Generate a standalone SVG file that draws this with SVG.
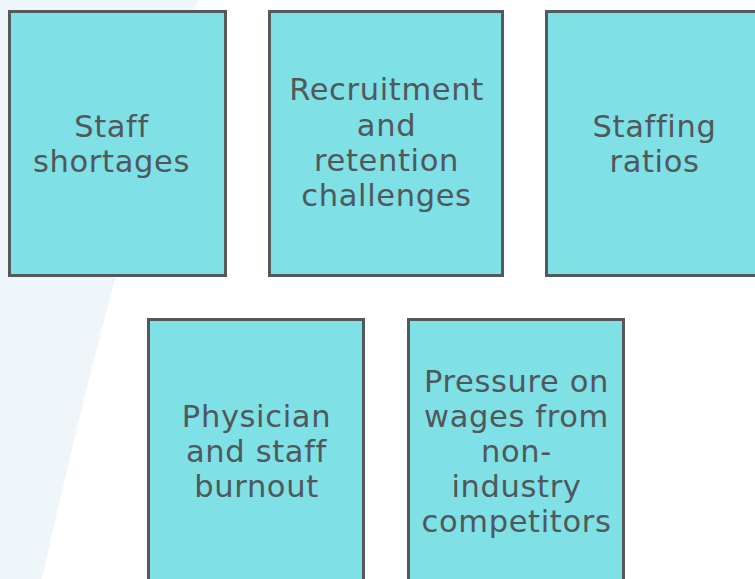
<svg xmlns="http://www.w3.org/2000/svg" width="755" height="579" viewBox="0 0 755 579">
<style>
.box{fill:#7fe0e6;stroke:#55595c;stroke-width:3}
.t{font-family:"DejaVu Sans","Verdana",sans-serif;font-size:30.5px;letter-spacing:0.65px;fill:#50585b;text-anchor:middle}
</style>
<rect width="755" height="579" fill="#ffffff"/>
<path d="M0,0 L198,0 Q115,250 42,579 L0,579 Z" fill="#eff6fa"/>
<g id="node-staff-shortages">
<rect class="box" x="9.5" y="11.5" width="216" height="264"/>
<text class="t" x="111.5" y="137">Staff</text>
<text class="t" x="111.5" y="172">shortages</text>
</g>
<g id="node-recruitment">
<rect class="box" x="269.5" y="11.5" width="233" height="264"/>
<text class="t" x="386.5" y="100">Recruitment</text>
<text class="t" x="386.5" y="136">and</text>
<text class="t" x="386.5" y="171">retention</text>
<text class="t" x="386.5" y="206">challenges</text>
</g>
<g id="node-staffing-ratios">
<rect class="box" x="546.5" y="11.5" width="230" height="264"/>
<text class="t" x="654.5" y="137">Staffing</text>
<text class="t" x="654.5" y="172">ratios</text>
</g>
<g id="node-burnout">
<rect class="box" x="148.5" y="319.5" width="215" height="280"/>
<text class="t" x="256.5" y="427">Physician</text>
<text class="t" x="256.5" y="462">and staff</text>
<text class="t" x="256.5" y="497">burnout</text>
</g>
<g id="node-wages">
<rect class="box" x="408.5" y="319.5" width="215" height="280"/>
<text class="t" x="516.5" y="392">Pressure on</text>
<text class="t" x="516.5" y="427">wages from</text>
<text class="t" x="516.5" y="462">non-</text>
<text class="t" x="516.5" y="497">industry</text>
<text class="t" x="516.5" y="532">competitors</text>
</g>
<g id="connectors"></g>
</svg>
